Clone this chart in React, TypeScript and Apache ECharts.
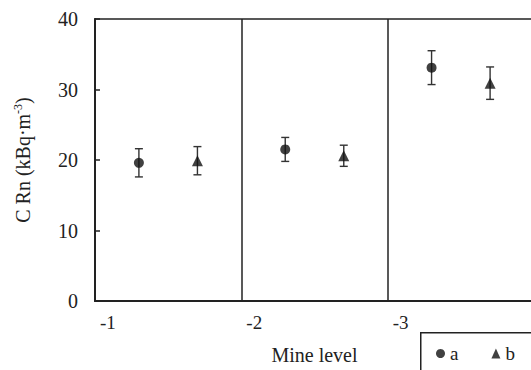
import React, { useEffect, useRef } from "react";
import * as echarts from "echarts";

const categories = ["-1", "-2", "-3"];
const seriesA = [19.6, 21.5, 33.1];
const errA = [2.0, 1.7, 2.4];
const seriesB = [19.9, 20.6, 30.9];
const errB = [2.0, 1.5, 2.3];
const yTicks = [0, 10, 20, 30, 40];

const OFFSET_A = 0.3;
const OFFSET_B = 0.7;
const FONT = "Liberation Serif";
const INK = "#222";
const FS = 19;

function errorSeries(name: string, vals: number[], errs: number[], off: number) {
  return {
    type: "custom",
    name: name + "_err",
    silent: true,
    z: 3,
    data: vals.map((v, i) => [i + off, v - errs[i], v + errs[i]]),
    renderItem: (params: any, api: any) => {
      const x = api.value(0);
      const lo = api.coord([x, api.value(1)]);
      const hi = api.coord([x, api.value(2)]);
      const cap = 4;
      const style = { stroke: "#333", lineWidth: 1.4 };
      return {
        type: "group",
        children: [
          { type: "line", shape: { x1: lo[0], y1: lo[1], x2: hi[0], y2: hi[1] }, style },
          { type: "line", shape: { x1: lo[0] - cap, y1: lo[1], x2: lo[0] + cap, y2: lo[1] }, style },
          { type: "line", shape: { x1: hi[0] - cap, y1: hi[1], x2: hi[0] + cap, y2: hi[1] }, style },
        ],
      };
    },
  };
}

export default function App() {
  const ref = useRef<HTMLDivElement>(null);
  useEffect(() => {
    if (!ref.current) return;
    const chart = echarts.init(ref.current, null, { renderer: "svg" });
    chart.setOption({
      animation: false,
      backgroundColor: "#fff",
      textStyle: { fontFamily: FONT, color: INK },
      grid: {
        left: 95,
        top: 19,
        width: 439,
        bottom: 69,
        show: true,
        borderColor: INK,
        borderWidth: 1.5,
        containLabel: false,
        outerBoundsMode: "none",
      },
      legend: {
        left: 436,
        top: 344,
        padding: 0,
        itemWidth: 9,
        itemHeight: 10,
        itemGap: 33,
        selectedMode: false,
        textStyle: { fontFamily: FONT, fontSize: FS, color: INK },
        data: [
          { name: "a", icon: "circle", itemStyle: { color: "#111" } },
          { name: "b", icon: "triangle", itemStyle: { color: "#111" } },
        ],
      },
      xAxis: {
        type: "value",
        min: 0,
        max: 3,
        interval: 1,
        name: "Mine level",
        nameLocation: "middle",
        nameGap: 44,
        nameTextStyle: { fontFamily: FONT, fontSize: 20, color: INK },
        axisLine: { show: true, lineStyle: { color: INK, width: 2 } },
        axisTick: { show: false },
        splitLine: { show: true, lineStyle: { color: INK, width: 1.5 } },
        axisLabel: {
          fontFamily: FONT,
          fontSize: FS,
          color: INK,
          margin: 12,
          align: "left",
          padding: [0, 0, 0, 5],
          formatter: (v: number) => (categories[v] !== undefined ? categories[v] : ""),
        },
      },
      yAxis: {
        type: "value",
        min: yTicks[0],
        max: yTicks[yTicks.length - 1],
        interval: 10,
        name: "C Rn (kBq·m{sup|-3})",
        nameLocation: "middle",
        nameGap: 61,
        nameTextStyle: {
          fontFamily: FONT,
          fontSize: 20,
          color: INK,
          rich: {
            sup: { fontFamily: FONT, fontSize: 12, color: INK, padding: [0, 0, 10, 0] },
          },
        },
        axisLine: { show: true, lineStyle: { color: INK, width: 2 } },
        axisTick: { show: true, inside: true, length: 5, lineStyle: { color: INK, width: 1.5 } },
        splitLine: { show: false },
        axisLabel: { fontFamily: FONT, fontSize: 20, color: INK, margin: 17 },
      },
      series: [
        errorSeries("a", seriesA, errA, OFFSET_A),
        errorSeries("b", seriesB, errB, OFFSET_B),
        {
          type: "scatter",
          name: "a",
          symbol: "circle",
          symbolSize: 10,
          z: 4,
          itemStyle: { color: "#111" },
          data: seriesA.map((v, i) => [i + OFFSET_A, v]),
        },
        {
          type: "scatter",
          name: "b",
          symbol: "triangle",
          symbolSize: 11,
          z: 4,
          itemStyle: { color: "#111" },
          data: seriesB.map((v, i) => [i + OFFSET_B, v]),
        },
      ],
      graphic: [
        {
          type: "rect",
          left: 420,
          top: 332,
          z: -1,
          shape: { width: 200, height: 100 },
          style: { fill: "#fff", stroke: INK, lineWidth: 1.5 },
        },
      ],
    });
    return () => chart.dispose();
  }, []);
  return (
    <div
      ref={ref}
      style={{ position: "fixed", left: 0, top: 0, width: 531, height: 370, background: "#fff" }}
    />
  );
}
